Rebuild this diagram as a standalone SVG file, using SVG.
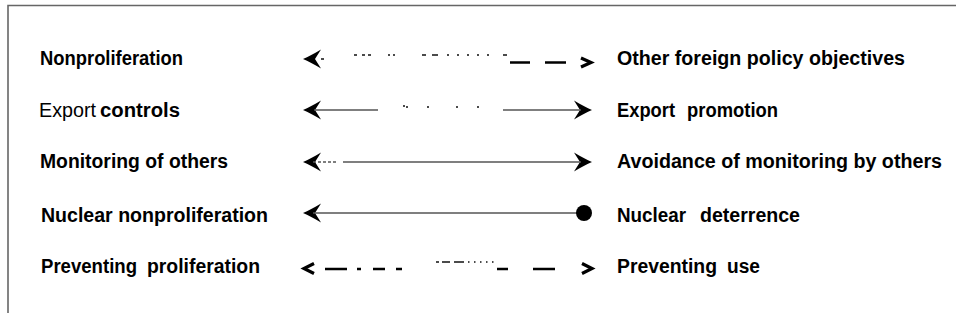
<svg xmlns="http://www.w3.org/2000/svg" width="956" height="323" viewBox="0 0 956 323">
<style>
  .lbl{font-family:"Liberation Sans",Arial,sans-serif;font-size:20px;font-weight:bold;fill:#000}
  .reg{font-weight:normal}
  .ln{stroke:#555;stroke-width:1.3;fill:none}
  .th{stroke:#000;stroke-width:2.6;fill:none}
  .sm{stroke:#111;stroke-width:1.6;fill:none}
  .chev{stroke:#000;stroke-width:3.2;fill:none;stroke-linejoin:miter}
</style>
<defs>
  <path id="headL" d="M0,0 C5,-2 11,-5.5 18,-9.5 L12,0 L18,9.5 C11,5.5 5,2 0,0 Z" fill="#000"/>
  <path id="headR" d="M0,0 C-5,-2 -11,-5.5 -18,-9.5 L-12,0 L-18,9.5 C-11,5.5 -5,2 0,0 Z" fill="#000"/>
</defs>
<rect width="956" height="323" fill="#fff"/>
<path d="M8,313 V5.5 H956" stroke="#666" stroke-width="1.6" fill="none"/>

<g id="n-nonproliferation"><text class="lbl" x="40" y="65" textLength="143" lengthAdjust="spacingAndGlyphs">Nonproliferation</text></g>
<g id="n-other-objectives"><text class="lbl" x="617" y="65" textLength="288" lengthAdjust="spacingAndGlyphs">Other foreign policy objectives</text></g>

<g id="n-export-controls"><text class="lbl reg" x="39" y="117" textLength="57" lengthAdjust="spacingAndGlyphs">Export</text><text class="lbl" x="100" y="117" textLength="80" lengthAdjust="spacingAndGlyphs">controls</text></g>
<g id="n-export-promotion"><text class="lbl" x="617" y="117" textLength="58" lengthAdjust="spacingAndGlyphs">Export</text><text class="lbl" x="687" y="117" textLength="91" lengthAdjust="spacingAndGlyphs">promotion</text></g>

<g id="n-monitoring"><text class="lbl" x="40" y="168" textLength="188" lengthAdjust="spacingAndGlyphs">Monitoring of others</text></g>
<g id="n-avoidance"><text class="lbl" x="617" y="168" textLength="325" lengthAdjust="spacingAndGlyphs">Avoidance of monitoring by others</text></g>

<g id="n-nuclear-nonproliferation"><text class="lbl" x="41" y="222" textLength="227" lengthAdjust="spacingAndGlyphs">Nuclear nonproliferation</text></g>
<g id="n-nuclear-deterrence"><text class="lbl" x="617" y="222" textLength="69" lengthAdjust="spacingAndGlyphs">Nuclear</text><text class="lbl" x="700" y="222" textLength="100" lengthAdjust="spacingAndGlyphs">deterrence</text></g>

<g id="n-preventing-proliferation"><text class="lbl" x="41" y="273" textLength="96" lengthAdjust="spacingAndGlyphs">Preventing</text><text class="lbl" x="147" y="273" textLength="113" lengthAdjust="spacingAndGlyphs">proliferation</text></g>
<g id="n-preventing-use"><text class="lbl" x="617" y="273" textLength="100" lengthAdjust="spacingAndGlyphs">Preventing</text><text class="lbl" x="727" y="273" textLength="33" lengthAdjust="spacingAndGlyphs">use</text></g>

<g id="connectors">
  <g id="c1">
    <use href="#headL" x="303" y="59"/>
    <path class="sm" d="M321,59 H324 M354,55 H357 M362,55 H365 M368,55 H371 M388,55 H390 M393,55 H395 M422,55 H426 M432,55 H438 M447,55 H449 M457,55 H459 M467,55 H469 M477,55 H479 M487,55 H489 M503,55 H507"/>
    <path class="th" d="M510,62.5 H530 M545,62.5 H566"/>
    <polyline class="chev" points="581,58 591,62.5 581,67"/>
  </g>
  <g id="c2">
    <use href="#headL" x="303" y="110"/>
    <use href="#headR" x="592" y="110"/>
    <path class="ln" d="M314,110 H378 M503,110 H581"/>
    <path class="sm" d="M403,106 H405 M406,107 H408 M427,107 H429 M456,107 H458 M477,107 H479"/>
  </g>
  <g id="c3">
    <use href="#headL" x="303" y="162"/>
    <use href="#headR" x="592" y="162"/>
    <path class="ln" d="M313,162 H337" stroke-dasharray="3,2"/>
    <path class="ln" d="M343,162 H581"/>
  </g>
  <g id="c4">
    <use href="#headL" x="303" y="213"/>
    <path class="ln" d="M313,213 H577"/>
    <circle cx="584" cy="213" r="8" fill="#000"/>
  </g>
  <g id="c5">
    <polyline class="chev" points="314,263.5 304,268.5 314,273.5"/>
    <path class="th" d="M325,269 H347 M357,269 H361 M373,269 H385 M396,269 H402 M497,269 H508 M533,269 H555"/>
    <path class="sm" d="M436,262 H439 M442,262 H450 M454,262 H464 M468,262 H469.5 M474,262 H475.5 M480,262 H481.5 M486,262 H487.5 M492,262 H493.5"/>
    <polyline class="chev" points="582,263.5 592,268.5 582,273.5"/>
  </g>
</g>
</svg>
